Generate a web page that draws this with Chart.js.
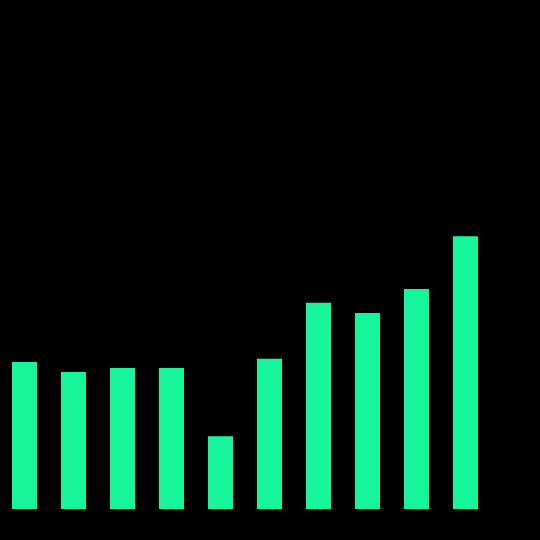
<!DOCTYPE html>
<html>
<head>
<meta charset="utf-8">
<script src="https://cdn.jsdelivr.net/npm/chart.js@4"></script>
<style>
  html, body { margin: 0; padding: 0; background: #000; }
  #wrap { width: 540px; height: 540px; }
</style>
</head>
<body>
<div id="wrap"><canvas id="myChart" width="540" height="540"></canvas></div>
<script>
// ten unlabelled bars (axis max = 100)
const labels = ['1', '2', '3', '4', '5', '6', '7', '8', '9', '10'];
const values = [28.9, 26.9, 27.7, 27.7, 14.3, 29.5, 40.5, 38.5, 43.2, 53.6];
const yMax = 100;

const ctx = document.getElementById('myChart').getContext('2d');

const myChart = new Chart(ctx, {
  type: 'bar',
  data: {
    labels: labels,
    datasets: [{
      data: values,
      backgroundColor: '#17f59a',
      borderWidth: 0,
      categoryPercentage: 1,
      barPercentage: 0.51
    }]
  },
  options: {
    responsive: false,
    animation: false,
    devicePixelRatio: 1,
    layout: { padding: { left: 0, right: 50, top: 0, bottom: 31 } },
    plugins: {
      legend: { display: false },
      tooltip: { enabled: false }
    },
    scales: {
      x: { display: false },
      y: { display: false, min: 0, max: yMax }
    }
  }
});
</script>
</body>
</html>
